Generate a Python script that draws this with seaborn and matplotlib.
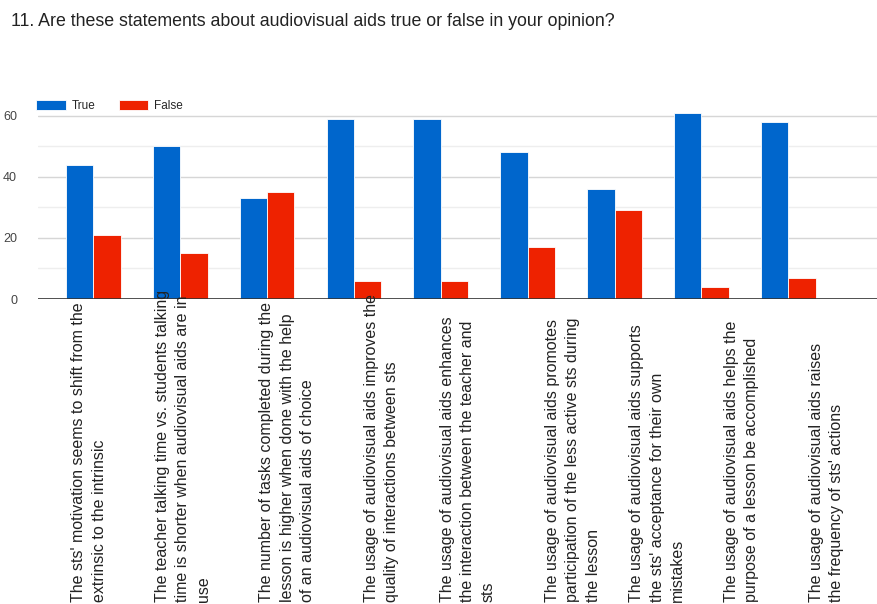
import matplotlib
matplotlib.use("Agg")
import matplotlib.pyplot as plt
import seaborn as sns
import pandas as pd
from matplotlib.ticker import MultipleLocator
from matplotlib.transforms import blended_transform_factory

# ---------------- data ----------------
title = "11. Are these statements about audiovisual aids true or false in your opinion?"
statements = [
    "The sts' motivation seems to shift from the\nextrinsic to the intrinsic",
    "The teacher talking time vs. students talking\ntime is shorter when audiovisual aids are in\nuse",
    "The number of tasks completed during the\nlesson is higher when done with the help\nof an audiovisual aids of choice",
    "The usage of audiovisual aids improves the\nquality of interactions between sts",
    "The usage of audiovisual aids enhances\nthe interaction between the teacher and\nsts",
    "The usage of audiovisual aids promotes\nparticipation of the less active sts during\nthe lesson",
    "The usage of audiovisual aids supports\nthe sts' acceptance for their own\nmistakes",
    "The usage of audiovisual aids helps the\npurpose of a lesson be accomplished",
    "The usage of audiovisual aids raises\nthe frequency of sts' actions",
]
true_counts = [44, 50, 33, 59, 59, 48, 36, 61, 58]
false_counts = [21, 15, 35, 6, 6, 17, 29, 4, 7]
series = ["True", "False"]
y_ticks = [0, 20, 40, 60]

# layout-only: horizontal shift of each wrapped label relative to its group
label_offsets = [-0.05, 0.03, 0.23, 0.32, 0.31, 0.52, 0.49, 0.46, 0.44]

df = pd.DataFrame({
    "statement": statements * 2,
    "answer": [series[0]] * len(statements) + [series[1]] * len(statements),
    "count": true_counts + false_counts,
})

sns.set_theme(style="white")
plt.rcParams["font.family"] = ["Liberation Sans", "DejaVu Sans"]

W, H = 877, 604
fig = plt.figure(figsize=(W / 100, H / 100), dpi=100)
ax = fig.add_axes([38 / W, (H - 299) / H, 1 - 38 / W, (299 - 100.4) / H])

sns.barplot(
    data=df, x="statement", y="count", hue="answer", hue_order=series,
    palette={"True": "#0066CC", "False": "#EE2200"},
    width=0.63, saturation=1, edgecolor="white", linewidth=0.6,
    ax=ax, zorder=2,
)

ax.set_ylim(0, 65)
ax.set_xlim(-0.636, 9.02)
ax.set_yticks(y_ticks)
ax.yaxis.set_minor_locator(MultipleLocator(10))
ax.grid(which="major", axis="y", color="#d6d6d6", lw=1)
ax.grid(which="minor", axis="y", color="#eeeeee", lw=1)
ax.grid(axis="x", visible=False)
ax.set_axisbelow(True)
ax.tick_params(which="both", length=0)
ax.tick_params(axis="y", labelsize=9, labelcolor="#444444", pad=15)
ax.set_xticks(range(len(statements)))
ax.set_xticklabels([])
ax.set_xlabel("")
ax.set_ylabel("")
for s in ax.spines.values():
    s.set_visible(False)
ax.axhline(0, color="#333333", lw=1.2, zorder=3)

trans = blended_transform_factory(ax.transData, fig.transFigure)
for i, lab in enumerate(statements):
    ax.text(i + label_offsets[i], 0.003, lab, transform=trans, rotation=90,
            ha="center", va="bottom", multialignment="left", fontsize=11.5,
            linespacing=1.45, color="#222222", clip_on=False, zorder=5)

handles, labels = ax.get_legend_handles_labels()
ax.legend(handles, labels, loc="center left",
          bbox_to_anchor=(36 / W, (H - 106) / H), bbox_transform=fig.transFigure,
          ncol=2, frameon=False, fontsize=8.5, handlelength=2.5, handleheight=1.0,
          columnspacing=2.0, handletextpad=0.5, borderpad=0, borderaxespad=0)

fig.text(11 / W, 1 - 22 / H, title, fontsize=12.8, va="center", ha="left", color="#222222")

fig.savefig("out.png", dpi=100)
